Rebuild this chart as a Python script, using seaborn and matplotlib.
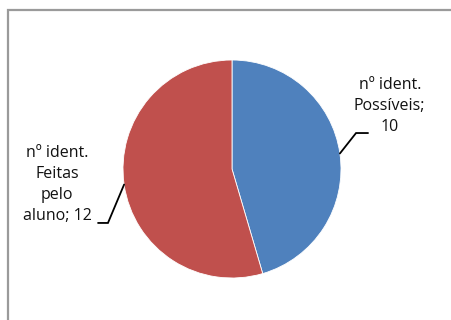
import numpy as np
import matplotlib
matplotlib.use("Agg")
import matplotlib.pyplot as plt
import seaborn as sns
from matplotlib.patches import Rectangle

sns.set_theme(style="white")
plt.rcParams['font.family'] = ['Open Sans', 'DejaVu Sans']

categories = ["nº ident.\nPossíveis;", "nº ident.\nFeitas\npelo\naluno;"]
values = [10, 12]
colors = ["#4F81BD", "#C0504D"]

W, H = 451, 320
fig = plt.figure(figsize=(W / 100, H / 100), dpi=100)
fig.patch.set_facecolor("white")

# chart border (extends beyond the right and bottom edges)
fig.patches.append(Rectangle((8 / W, -0.5), 2.0, 1.5 - 10 / H,
                             transform=fig.transFigure, fill=False,
                             edgecolor="#9a9a9a", linewidth=1.6, zorder=0))

scale = 109.0  # px per unit radius
cx, cy = 232.0, 169.0
ax = fig.add_axes([0, 0, 1, 1])
ax.axis("off")
ax.patch.set_alpha(0)

wedges, _ = ax.pie(values, colors=colors, startangle=90, counterclock=False,
                   radius=1.0, wedgeprops=dict(linewidth=0.6, edgecolor="white"))
ax.set_aspect("auto")
ax.set_xlim(-cx / scale, (W - cx) / scale)
ax.set_ylim(-(H - cy) / scale, cy / scale)

label_specs = [
    # elbow, end, text position
    ((1.138, 0.330), (1.248, 0.330), (1.447, 0.578)),
    ((-1.138, -0.495), (-1.229, -0.495), (-1.606, -0.142)),
]
for w, cat, val, (elbow, end, tpos) in zip(wedges, categories, values, label_specs):
    mid = np.deg2rad((w.theta1 + w.theta2) / 2)
    sx, sy = np.cos(mid), np.sin(mid)
    ax.plot([sx, elbow[0], end[0]], [sy, elbow[1], end[1]], color="black", lw=1.3,
            solid_joinstyle="miter")
    sep = "\n" if val == 10 else " "
    ax.text(tpos[0], tpos[1], f"{cat}{sep}{val}",
            ha="center", va="center", multialignment="center", fontsize=11.5,
            linespacing=1.4, color="#111111")

fig.savefig("out.png", dpi=100)
